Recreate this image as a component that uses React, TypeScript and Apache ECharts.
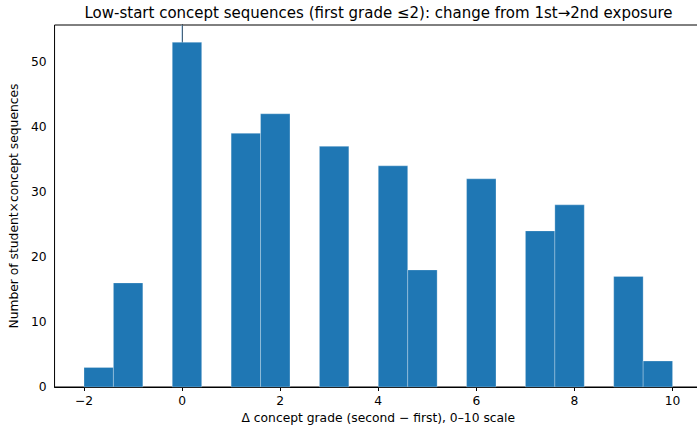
import React, { useEffect, useRef } from "react";
import * as echarts from "echarts";

const TITLE = "Low-start concept sequences (first grade \u22642): change from 1st\u21922nd exposure";
const X_LABEL = "\u0394 concept grade (second \u2212 first), 0\u201310 scale";
const Y_LABEL = "Number of student\u00d7concept sequences";

const binEdges = [-2, -1.4, -0.8, -0.2, 0.4, 1.0, 1.6, 2.2, 2.8, 3.4, 4.0, 4.6, 5.2, 5.8, 6.4, 7.0, 7.6, 8.2, 8.8, 9.4, 10];
const counts = [3, 16, 0, 53, 0, 39, 42, 0, 37, 0, 34, 18, 0, 32, 0, 24, 28, 0, 17, 4];
const xTicks = [-2, 0, 2, 4, 6, 8, 10];
const yTicks = [0, 10, 20, 30, 40, 50];
const refLineX = 0;

const FONT = "DejaVu Sans";
const FS = 12.3;

export default function App() {
  const ref = useRef<HTMLDivElement>(null);
  useEffect(() => {
    document.body.style.margin = "0";
    document.body.style.overflow = "hidden";
    if (!ref.current) return;
    const chart = echarts.init(ref.current, null, { renderer: "svg" });
    const binData = counts.map((c, i) => [binEdges[i], binEdges[i + 1], c]);
    const yMax = Math.max(...counts) * 1.05;
    const xSpan = binEdges[binEdges.length - 1] - binEdges[0];
    const xMin = binEdges[0] - xSpan * 0.05;
    const xMax = binEdges[binEdges.length - 1] + xSpan * 0.05;
    chart.setOption({
      animation: false,
      textStyle: { fontFamily: FONT },
      grid: {
        left: 54,
        top: 25,
        right: 10,
        bottom: 44,
        show: true,
        borderColor: "#000",
        borderWidth: 1,
        backgroundColor: "transparent",
      },
      graphic: [
        {
          type: "text",
          x: 378.5,
          y: 13,
          style: {
            text: TITLE,
            align: "center",
            verticalAlign: "middle",
            fontSize: 15,
            fontFamily: FONT,
            fill: "#000",
          },
        },
      ],
      xAxis: {
        type: "value",
        min: xMin,
        max: xMax,
        name: X_LABEL,
        nameLocation: "middle",
        nameGap: 22,
        nameTextStyle: { fontSize: FS, color: "#000", fontFamily: FONT },
        splitLine: { show: false },
        axisLine: { show: true, onZero: false, lineStyle: { color: "#000", width: 1 } },
        axisTick: { show: true, length: 4, lineStyle: { color: "#000" }, customValues: xTicks },
        axisLabel: {
          customValues: xTicks,
          fontSize: FS,
          color: "#000",
          margin: 8,
          fontFamily: FONT,
          formatter: (v: number) => (v < 0 ? "\u2212" + Math.abs(v) : String(v)),
        },
      },
      yAxis: {
        type: "value",
        min: 0,
        max: yMax,
        name: Y_LABEL,
        nameLocation: "middle",
        nameRotate: 90,
        nameGap: 27,
        nameTextStyle: { fontSize: FS, color: "#000", fontFamily: FONT },
        splitLine: { show: false },
        axisLine: { show: true, lineStyle: { color: "#000", width: 1 } },
        axisTick: { show: true, length: 4, lineStyle: { color: "#000" }, customValues: yTicks },
        axisLabel: { customValues: yTicks, fontSize: FS, color: "#000", margin: 8, fontFamily: FONT },
      },
      series: [
        {
          type: "line",
          z: 1,
          data: [
            [refLineX, 0],
            [refLineX, yMax],
          ],
          showSymbol: false,
          symbol: "none",
          lineStyle: { color: "#7db0dc", width: 1 },
          silent: true,
        },
        {
          type: "custom",
          z: 2,
          data: binData,
          encode: { x: [0, 1], y: 2 },
          renderItem: (params: any, api: any) => {
            const x0 = api.value(0);
            const x1 = api.value(1);
            const c = api.value(2);
            if (!c) return null;
            const p0 = api.coord([x0, c]);
            const p1 = api.coord([x1, 0]);
            return {
              type: "rect",
              shape: { x: p0[0], y: p0[1], width: p1[0] - p0[0], height: p1[1] - p0[1] },
              style: { fill: "#1f77b4", stroke: "rgba(255,255,255,0.45)", lineWidth: 0.6 },
            };
          },
        },
      ],
    });
    return () => chart.dispose();
  }, []);
  return <div ref={ref} style={{ width: 712, height: 431 }} />;
}
